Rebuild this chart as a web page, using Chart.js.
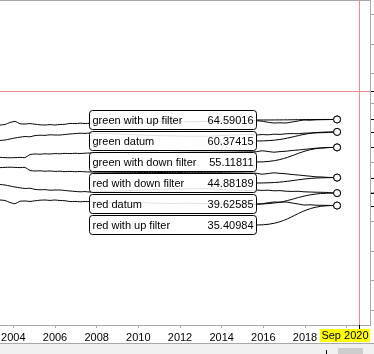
<!DOCTYPE html>
<html>
<head>
<meta charset="utf-8">
<script src="https://cdn.jsdelivr.net/npm/chart.js@4.4.1/dist/chart.umd.min.js"></script>
<style>
  html, body { margin: 0; padding: 0; background: #fff; overflow: hidden; }
  #wrap { width: 374px; height: 354px; position: relative; }
</style>
</head>
<body>
<div id="wrap"><canvas id="filterChart" width="374" height="354"></canvas></div>
<script>
// Fechas (años fraccionarios) comunes a todas las series
const dates = [2003.12, 2003.36, 2003.60, 2003.84, 2004.08, 2004.32, 2004.56, 2004.80, 2005.04, 2005.28,
               2005.52, 2005.76, 2006.00, 2006.24, 2006.48, 2006.72, 2006.96, 2007.20, 2007.44, 2007.68,
               2008.64, 2009.60, 2010.56, 2011.52, 2012.48, 2013.44, 2014.40, 2015.36,
               2015.65, 2015.94, 2016.23, 2016.51, 2016.80, 2017.09, 2017.38, 2017.67, 2017.95, 2018.24,
               2018.53, 2018.82, 2019.11, 2019.54];

const greenUp = [62.71, 62.71, 62.88, 63.56, 63.97, 63.12, 63.05, 63.19, 62.98, 62.78,
                 62.71, 62.85, 62.71, 62.88, 62.95, 63.25, 63.19, 63.32, 63.22, 63.29,
                 63.5, 63.4, 63.7, 63.9, 63.8, 64.0, 64.1, 64.2,
                 64.17, 64.0, 63.63, 63.39, 63.46, 63.39, 63.73, 64.07, 64.41, 64.34,
                 64.47, 64.51, 64.54, 64.59016];
const greenDatum = [57.39, 57.46, 57.63, 57.97, 58.31, 58.58, 58.81, 58.71, 59.12, 59.25,
                    59.19, 59.39, 59.32, 59.32, 59.49, 59.66, 59.8, 59.93, 59.86, 60.0,
                    59.8, 59.5, 59.2, 59.0, 58.9, 58.9, 59.3, 59.5,
                    59.32, 59.46, 59.39, 59.59, 59.53, 59.73, 59.8, 59.76, 59.93, 60.0,
                    60.07, 60.1, 60.17, 60.37415];
const greenDown = [51.66, 51.73, 51.66, 51.59, 51.66, 51.73, 51.66, 52.71, 52.88, 52.81,
                   52.95, 52.88, 53.02, 52.95, 53.08, 53.02, 53.12, 53.05, 53.15, 53.22,
                   53.3, 53.35, 53.4, 53.4, 53.45, 53.45, 53.5, 53.6,
                   53.63, 53.97, 53.73, 53.49, 53.69, 53.83, 54.07, 54.24, 54.44, 54.64,
                   54.85, 54.92, 55.05, 55.11811];
const redDown = [48.34, 48.27, 48.34, 48.41, 48.34, 48.27, 48.34, 47.29, 47.12, 47.19,
                 47.05, 47.12, 46.98, 47.05, 46.92, 46.98, 46.88, 46.95, 46.85, 46.78,
                 46.7, 46.65, 46.6, 46.6, 46.55, 46.55, 46.5, 46.4,
                 46.37, 46.03, 46.27, 46.51, 46.31, 46.17, 45.93, 45.76, 45.56, 45.36,
                 45.15, 45.08, 44.95, 44.88189];
const redDatum = [42.61, 42.54, 42.37, 42.03, 41.69, 41.42, 41.19, 41.29, 40.88, 40.75,
                  40.81, 40.61, 40.68, 40.68, 40.51, 40.34, 40.2, 40.07, 40.14, 40.0,
                  40.2, 40.5, 40.8, 41.0, 41.1, 41.1, 40.7, 40.5,
                  40.68, 40.54, 40.61, 40.41, 40.47, 40.27, 40.2, 40.24, 40.07, 40.0,
                  39.93, 39.9, 39.83, 39.62585];
const redUp = [37.29, 37.29, 37.12, 36.44, 36.03, 36.88, 36.95, 36.81, 37.02, 37.22,
               37.29, 37.15, 37.29, 37.12, 37.05, 36.75, 36.81, 36.68, 36.78, 36.71,
               36.5, 36.6, 36.3, 36.1, 36.2, 36.0, 35.9, 35.8,
               35.83, 36.0, 36.37, 36.61, 36.54, 36.61, 36.27, 35.93, 35.59, 35.66,
               35.53, 35.49, 35.46, 35.40984];

const seriesNames = ['green with up filter', 'green datum', 'green with down filter',
                     'red with down filter', 'red datum', 'red with up filter'];
const seriesValues = [greenUp, greenDatum, greenDown, redDown, redDatum, redUp];

const yearTicks = [2004, 2006, 2008, 2010, 2012, 2014, 2016, 2018, 2020];
const valueTicks = [0, 10, 20, 30, 40, 50, 60, 70, 80, 90, 100];

// Cursor (cruz roja)
const crossDate = 2020.61;
const crossValue = 74.3;
const crossLabel = 'Sep 2020';

document.addEventListener('DOMContentLoaded', () => {
    const FONT = '11px "Liberation Sans", Arial, sans-serif';
    const GRAY = '#a8a8a8';

    // Plugin para etiquetas, conectores, cursor y marco
    const overlay = {
        id: 'overlay',
        beforeDraw(chart) {
            const c = chart.ctx;
            c.save();
            c.fillStyle = '#fff';
            c.fillRect(0, 0, chart.width, chart.height);
            // franja inferior con barra de desplazamiento
            c.fillStyle = '#f0f0f0';
            c.fillRect(0, 344, chart.width, 10);
            c.strokeStyle = GRAY;
            c.beginPath(); c.moveTo(0, 343.5); c.lineTo(chart.width, 343.5); c.stroke();
            c.fillStyle = '#cdcdcd';
            c.fillRect(338, 348, 25, 6);
            c.strokeStyle = '#000';
            c.beginPath(); c.moveTo(326.5, 350); c.lineTo(326.5, 354); c.stroke();
            c.restore();
        },
        afterDatasetsDraw(chart) {
            const c = chart.ctx;
            const area = chart.chartArea;
            const boxH = 19, step = 21, boxW = 167;
            c.save();
            c.font = FONT;
            c.textBaseline = 'middle';
            let firstTop = null;
            seriesValues.forEach((vals, i) => {
                const meta = chart.getDatasetMeta(i);
                const pt = meta.data[meta.data.length - 1];
                if (firstTop === null) firstTop = Math.round(pt.y - boxH / 2);
                const top = firstTop + i * step + 0.5;
                const right = Math.round(pt.x - 81) + 0.5;
                const left = right - boxW;
                const cy = top + boxH / 2;
                // conector
                c.strokeStyle = '#000';
                c.lineWidth = 1;
                c.beginPath();
                c.moveTo(right, cy);
                c.bezierCurveTo(right + 38, cy, pt.x - 42, pt.y, pt.x - 4, pt.y);
                c.stroke();
                // caja
                c.fillStyle = 'rgba(255,255,255,0.88)';
                c.beginPath();
                c.roundRect(left, top, boxW, boxH, 3);
                c.fill();
                c.stroke();
                c.fillStyle = '#000';
                c.textAlign = 'left';
                c.fillText(seriesNames[i], left + 3, cy + 0.5);
                c.textAlign = 'right';
                c.fillText(vals[vals.length - 1].toFixed(5), right - 3, cy + 0.5);
                // punto final encima
                pt.draw(c, area);
            });
            c.restore();
        },
        afterDraw(chart) {
            const c = chart.ctx;
            const area = chart.chartArea;
            const xs = chart.scales.x, ys = chart.scales.y;
            c.save();
            c.lineWidth = 1;
            // borde superior
            c.strokeStyle = GRAY;
            c.beginPath(); c.moveTo(0, 0.5); c.lineTo(area.right + 0.5, 0.5); c.stroke();
            // cursor
            const cx = Math.round(xs.getPixelForValue(crossDate)) + 0.5;
            const cyy = Math.round(ys.getPixelForValue(crossValue)) + 0.5;
            c.strokeStyle = '#f08c8c';
            c.beginPath();
            c.moveTo(cx, area.top); c.lineTo(cx, area.bottom);
            c.moveTo(area.left, cyy); c.lineTo(area.right, cyy);
            c.stroke();
            // marcas negras en los ejes
            c.strokeStyle = '#000';
            c.beginPath();
            c.moveTo(cx, area.bottom); c.lineTo(cx, area.bottom + 4);
            const ticksY = seriesValues.map(v => v[v.length - 1]).concat([crossValue]);
            ticksY.forEach(v => {
                const y = Math.round(ys.getPixelForValue(v)) + 0.5;
                c.moveTo(area.right + 1, y); c.lineTo(area.right + 5, y);
            });
            c.stroke();
            // etiqueta amarilla de fecha
            c.font = FONT;
            const w = c.measureText(crossLabel).width + 3;
            let lx = cx - w / 2;
            if (lx + w > area.right) lx = area.right - w;
            c.fillStyle = '#ffff00';
            c.fillRect(lx, 329, w, 13);
            c.fillStyle = '#000';
            c.textAlign = 'center';
            c.textBaseline = 'middle';
            c.fillText(crossLabel, lx + w / 2, 336);
            c.restore();
        }
    };

    const ctx = document.getElementById('filterChart').getContext('2d');
    const chart = new Chart(ctx, {
        type: 'line',
        data: {
            datasets: seriesValues.map((vals, i) => ({
                label: seriesNames[i],
                data: vals.map((v, j) => ({ x: dates[j], y: v })),
                borderColor: '#000',
                borderWidth: 1,
                tension: 0.1,
                pointRadius: vals.map((v, j) => j === vals.length - 1 ? 3.5 : 0),
                pointBackgroundColor: '#fff',
                pointBorderColor: '#000',
                pointBorderWidth: 1
            }))
        },
        options: {
            responsive: false,
            animation: false,
            devicePixelRatio: 1,
            layout: { padding: 0, autoPadding: false },
            plugins: {
                legend: { display: false },
                tooltip: { enabled: false }
            },
            scales: {
                x: {
                    type: 'linear',
                    position: 'bottom',
                    min: 2003.36,
                    max: 2021.12,
                    afterBuildTicks: scale => { scale.ticks = yearTicks.map(v => ({ value: v })); },
                    afterFit: scale => { scale.height = 29; scale.paddingLeft = 0; scale.paddingRight = 0; },
                    grid: { drawOnChartArea: false, tickLength: 3, color: GRAY },
                    border: { color: GRAY },
                    ticks: {
                        padding: 3,
                        maxRotation: 0,
                        autoSkip: false,
                        color: '#000',
                        font: { family: '"Liberation Sans", Arial, sans-serif', size: 11 },
                        callback: v => (v <= 2018 ? String(v) : '')
                    }
                },
                y: {
                    type: 'linear',
                    position: 'right',
                    min: -5.08,
                    max: 105.08,
                    afterBuildTicks: scale => { scale.ticks = valueTicks.map(v => ({ value: v })); },
                    afterFit: scale => { scale.width = 4; scale.paddingTop = 0; scale.paddingBottom = 0; },
                    grid: { drawOnChartArea: false, tickLength: 4, color: GRAY },
                    border: { color: GRAY },
                    ticks: { display: false }
                }
            }
        },
        plugins: [overlay]
    });
});
</script>
</body>
</html>
